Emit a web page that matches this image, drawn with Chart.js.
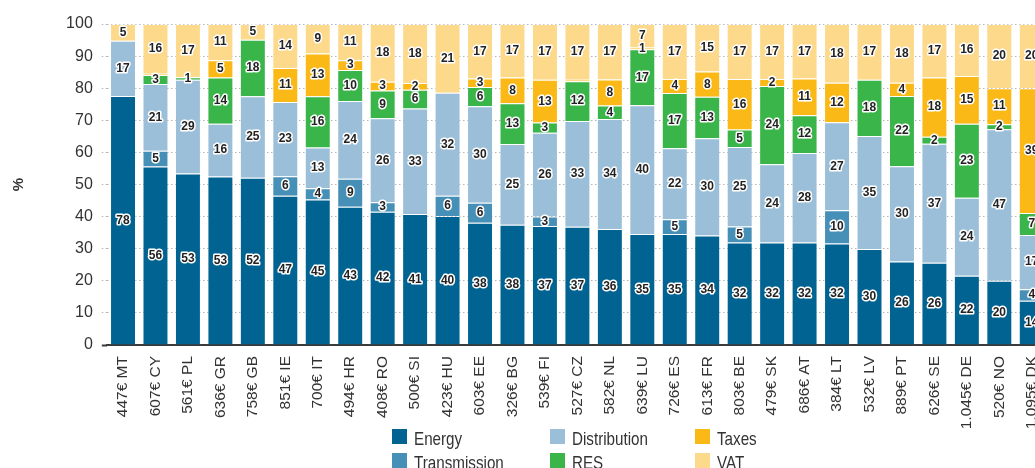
<!DOCTYPE html>
<html>
<head>
<meta charset="utf-8">
<script src="https://cdn.jsdelivr.net/npm/chart.js@4.4.1/dist/chart.umd.min.js"></script>
<style>
  html, body { margin: 0; padding: 0; background: #fff; overflow: hidden; width: 1035px; height: 468px; }
  #wrap { position: absolute; left: 0; top: 0; width: 1050px; height: 468px; }
  .legend { position: absolute; left: 0; top: 0; font-family: 'Liberation Sans', Arial, sans-serif; font-size: 19px; color: #333; }
  .legend .item { position: absolute; white-space: nowrap; line-height: 15px; }
  .legend .box { display: inline-block; width: 15px; height: 15px; vertical-align: top; margin-right: 7px; }
  .legend .txt { display: inline-block; position: relative; top: 2px; transform: scaleX(0.8); transform-origin: left center; }
</style>
</head>
<body>
<div id="wrap"><canvas id="chart"></canvas></div>
<div class="legend" id="legend"></div>
<script>
const countries = ['MT', 'CY', 'PL', 'GR', 'GB', 'IE', 'IT', 'HR', 'RO', 'SI', 'HU', 'EE', 'BG', 'FI', 'CZ',
  'NL', 'LU', 'ES', 'FR', 'BE', 'SK', 'AT', 'LT', 'LV', 'PT', 'SE', 'DE', 'NO', 'DK'];
const prices = ['447€', '607€', '561€', '636€', '758€', '851€', '700€', '494€', '408€', '500€', '423€', '603€', '326€', '539€', '527€',
  '582€', '639€', '726€', '613€', '803€', '479€', '686€', '384€', '532€', '889€', '626€', '1.045€', '520€', '1.095€'];

// shares of the bill, % (bottom to top)
const energy = [77.6, 55.6, 53.4, 52.5, 52.1, 46.5, 45.3, 43.1, 41.5, 40.8, 40.2, 38.1, 37.5, 37.1, 36.8,
  36.1, 34.6, 34.6, 34.1, 31.9, 31.9, 31.9, 31.6, 29.9, 26.0, 25.6, 21.6, 20.0, 13.8];
const transmission = [0, 4.9, 0, 0, 0, 6.1, 3.5, 8.7, 3.0, 0, 6.3, 6.2, 0, 2.9, 0,
  0, 0, 4.6, 0, 5.0, 0, 0, 10.4, 0, 0, 0, 0, 0, 3.6];
const distribution = [17.2, 20.8, 29.2, 16.4, 25.4, 23.1, 12.7, 24.2, 26.1, 32.9, 32.1, 30.1, 25.1, 26.1, 33.0,
  34.3, 40.1, 22.1, 30.3, 24.8, 24.4, 27.9, 27.4, 35.2, 29.7, 37.1, 24.3, 47.2, 16.9];
const res = [0, 2.8, 0.8, 14.4, 17.6, 0, 16.0, 9.7, 8.7, 5.8, 0, 6.0, 12.7, 3.2, 12.4,
  4.2, 17.4, 17.2, 12.9, 5.4, 24.4, 11.8, 0, 17.5, 21.9, 2.2, 23.0, 1.6, 6.8];
const taxes = [0, 0.4, 0, 5.4, 0, 10.6, 13.3, 3.0, 2.7, 2.1, 0, 2.6, 8.0, 13.3, 0.4,
  8.1, 0.6, 4.4, 7.9, 15.8, 2.2, 11.4, 12.3, 0, 4.1, 18.4, 14.9, 11.2, 38.9];
const vat = [5.2, 15.5, 16.6, 11.3, 4.9, 13.7, 9.2, 11.3, 18.0, 18.4, 21.4, 17.0, 16.7, 17.4, 17.4,
  17.3, 7.3, 17.1, 14.8, 17.1, 17.1, 17.0, 18.3, 17.4, 18.3, 16.7, 16.2, 20.0, 20.0];

const yTicks = [0, 10, 20, 30, 40, 50, 60, 70, 80, 90, 100];

const FONT = "'Liberation Sans', Arial, sans-serif";

const series = [
  { label: 'Energy', data: energy, color: '#006391' },
  { label: 'Transmission', data: transmission, color: '#4690B8' },
  { label: 'Distribution', data: distribution, color: '#9BBFD8' },
  { label: 'RES', data: res, color: '#3AB54A' },
  { label: 'Taxes', data: taxes, color: '#FBB917' },
  { label: 'VAT', data: vat, color: '#FDD98C' }
];

// numbers inside the segments, dark with a white halo
const segmentLabels = {
  id: 'segmentLabels',
  afterDatasetsDraw(chart) {
    const c = chart.ctx;
    c.save();
    c.font = 'bold 12px ' + FONT;
    c.textAlign = 'center';
    c.textBaseline = 'middle';
    c.lineJoin = 'round';
    chart.data.datasets.forEach((ds, di) => {
      const meta = chart.getDatasetMeta(di);
      meta.data.forEach((bar, i) => {
        const v = Math.round(ds.data[i]);
        if (v < 1) return;
        const y = (bar.y + bar.base) / 2;
        c.strokeStyle = '#fff';
        c.lineWidth = 3;
        c.strokeText(String(v), bar.x, y);
        c.fillStyle = '#222';
        c.fillText(String(v), bar.x, y);
      });
    });
    c.restore();
  }
};

const ctx = document.getElementById('chart').getContext('2d');
new Chart(ctx, {
  type: 'bar',
  data: {
    labels: prices.map((p, i) => p + ' ' + countries[i]),
    datasets: series.map(s => ({
      label: s.label,
      data: s.data,
      backgroundColor: s.color,
      borderColor: 'rgba(255,255,255,0.3)',
      borderWidth: 1,
      barPercentage: 0.8,
      categoryPercentage: 1.0
    }))
  },
  options: {
    responsive: true,
    maintainAspectRatio: false,
    animation: false,
    layout: { padding: { top: 24, right: 2, left: 0, bottom: 0 } },
    plugins: {
      legend: { display: false },
      tooltip: { enabled: false }
    },
    scales: {
      x: {
        stacked: true,
        grid: { display: false },
        border: { display: true, color: '#3a3a3a', width: 2 },
        ticks: {
          autoSkip: false,
          minRotation: 90,
          maxRotation: 90,
          padding: 3,
          color: '#333',
          font: { family: FONT, size: 15.5 }
        },
        afterFit: (scale) => {
          scale.height = 123;
          scale.paddingLeft = 0;
          scale.paddingRight = 0;
        }
      },
      y: {
        stacked: true,
        min: 0,
        max: 100,
        afterBuildTicks: (scale) => { scale.ticks = yTicks.map(v => ({ value: v })); },
        grid: {
          color: '#b5b5b5',
          lineWidth: 1,
          tickLength: 5,
          tickColor: (c) => c.tick && c.tick.value === 0 ? '#3a3a3a' : '#b5b5b5',
          tickWidth: (c) => c.tick && c.tick.value === 0 ? 2 : 1,
          tickBorderDash: (c) => c.tick && c.tick.value === 0 ? [] : [1.5, 2.5]
        },
        border: { display: false, dash: [1.5, 2.5] },
        ticks: {
          padding: 9,
          color: '#333',
          font: { family: FONT, size: 16 }
        },
        title: {
          display: true,
          text: '%',
          color: '#333',
          padding: { top: 10, bottom: 0 },
          font: { family: FONT, size: 15, weight: 'bold' }
        },
        afterFit: (scale) => { scale.width = 106.8; }
      }
    }
  },
  plugins: [segmentLabels]
});

// legend: three columns, two rows
const legendEl = document.getElementById('legend');
const legendPos = [[392, 429], [392, 453], [550, 429], [550, 453], [695, 429], [695, 453]];
series.forEach((s, i) => {
  const item = document.createElement('div');
  item.className = 'item';
  item.style.left = legendPos[i][0] + 'px';
  item.style.top = legendPos[i][1] + 'px';
  const box = document.createElement('span');
  box.className = 'box';
  box.style.background = s.color;
  const txt = document.createElement('span');
  txt.className = 'txt';
  txt.textContent = s.label;
  item.appendChild(box);
  item.appendChild(txt);
  legendEl.appendChild(item);
});
</script>
</body>
</html>
